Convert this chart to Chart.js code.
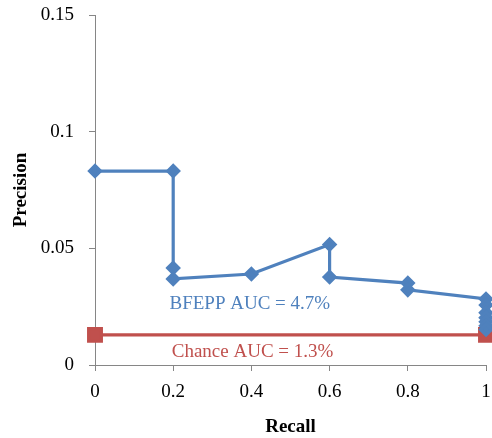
<!DOCTYPE html>
<html>
<head>
<meta charset="utf-8">
<script src="https://cdn.jsdelivr.net/npm/chart.js@4"></script>
<style>
html,body{margin:0;padding:0;background:#fff;}
#wrap{width:492px;height:438px;}
</style>
</head>
<body>
<div id="wrap"><canvas id="c" width="492" height="438"></canvas></div>
<script>
const bfeppRecall = [0, 0.2, 0.2, 0.2, 0.4, 0.6, 0.6, 0.8, 0.8, 1, 1, 1, 1, 1, 1, 1];
const bfeppPrecision = [0.0831, 0.0831, 0.0416, 0.0369, 0.0390, 0.0516, 0.0377, 0.0351, 0.0322, 0.0283, 0.0257, 0.0224, 0.0203, 0.0185, 0.0168, 0.0152];
const chanceRecall = [0, 1];
const chancePrecision = [0.0129, 0.0129];
const xTicks = [0, 0.2, 0.4, 0.6, 0.8, 1];
const yTicks = [0, 0.05, 0.1, 0.15];
const labels = [
  {text: 'BFEPP AUC = 4.7%', x: 0.396, y: 0.0262, color: '#4F81BD'},
  {text: 'Chance AUC = 1.3%', x: 0.403, y: 0.0054, color: '#C0504D'}
];

const FONT = "'Liberation Serif', serif";
const toPts = (xs, ys) => xs.map((x, i) => ({x: x, y: ys[i]}));

const textPlugin = {
  id: 'aucText',
  afterDatasetsDraw(chart) {
    const ctx = chart.ctx;
    const xs = chart.scales.x, ys = chart.scales.y;
    ctx.save();
    ctx.font = '19px ' + FONT;
    ctx.textAlign = 'center';
    ctx.textBaseline = 'middle';
    labels.forEach(l => {
      ctx.fillStyle = l.color;
      ctx.fillText(l.text, xs.getPixelForValue(l.x), ys.getPixelForValue(l.y));
    });
    ctx.restore();
  }
};

new Chart(document.getElementById('c'), {
  type: 'scatter',
  data: {
    datasets: [
      {
        label: 'BFEPP',
        data: toPts(bfeppRecall, bfeppPrecision),
        showLine: true,
        clip: false,
        borderColor: '#4F81BD',
        backgroundColor: '#4F81BD',
        borderWidth: 3.2,
        pointStyle: 'rectRot',
        pointRadius: 5.5,
        pointHoverRadius: 5.5,
        tension: 0
      },
      {
        label: 'Chance',
        data: toPts(chanceRecall, chancePrecision),
        showLine: true,
        clip: false,
        borderColor: '#C0504D',
        backgroundColor: '#C0504D',
        borderWidth: 3.2,
        pointStyle: 'rect',
        pointRadius: 9,
        pointHoverRadius: 9,
        tension: 0
      }
    ]
  },
  options: {
    responsive: false,
    animation: false,
    devicePixelRatio: 1,
    layout: {autoPadding: false, padding: {top: 15, right: 6, left: 0, bottom: 0}},
    plugins: {legend: {display: false}, tooltip: {enabled: false}},
    scales: {
      x: {
        type: 'linear',
        min: 0, max: 1,
        afterBuildTicks: s => { s.ticks = xTicks.map(v => ({value: v})); },
        afterFit: s => { s.height = 73; s.paddingLeft = 0; s.paddingRight = 0; },
        grid: {drawOnChartArea: false, tickLength: 6, color: '#868686', tickColor: '#868686'},
        border: {color: '#868686', width: 1},
        ticks: {color: '#000', font: {family: FONT, size: 19}, padding: 10, callback: v => String(v)},
        title: {display: true, text: 'Recall', color: '#000', font: {family: FONT, size: 19, weight: 'bold'}, padding: {top: 0, bottom: 0}}
      },
      y: {
        type: 'linear',
        min: 0, max: 0.15,
        afterBuildTicks: s => { s.ticks = yTicks.map(v => ({value: v})); },
        afterFit: s => { s.width = 95; s.paddingTop = 0; s.paddingBottom = 0; },
        grid: {drawOnChartArea: false, tickLength: 6, color: '#868686', tickColor: '#868686'},
        border: {color: '#868686', width: 1},
        ticks: {color: '#000', font: {family: FONT, size: 19}, padding: 15, callback: v => String(v)},
        title: {display: true, text: 'Precision', color: '#000', font: {family: FONT, size: 19, weight: 'bold'}, padding: {top: 10, bottom: 0}}
      }
    }
  },
  plugins: [textPlugin]
});
</script>
</body>
</html>
